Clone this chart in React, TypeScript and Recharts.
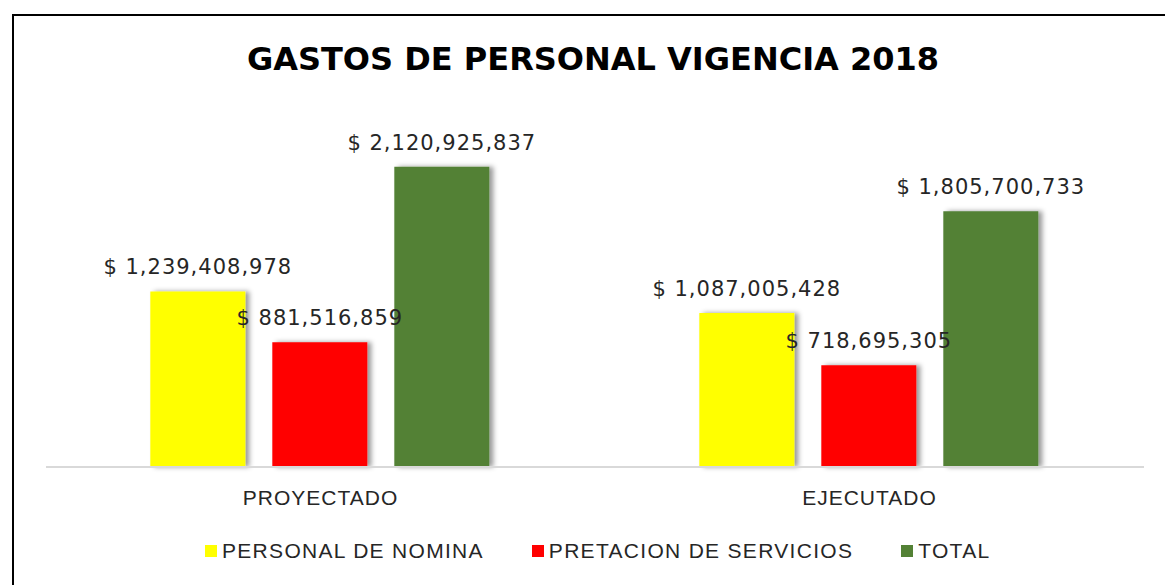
import React from "react";
import { BarChart, Bar, XAxis, YAxis, LabelList } from "recharts";

const categories = ["PROYECTADO", "EJECUTADO"];
const nomina = [1239408978, 1087005428];
const servicios = [881516859, 718695305];
const total = [2120925837, 1805700733];

const series = [
  { key: "nomina", name: "PERSONAL DE NOMINA", color: "#FFFF00" },
  { key: "servicios", name: "PRETACION DE SERVICIOS", color: "#FF0000" },
  { key: "total", name: "TOTAL", color: "#538135" },
];

const data = categories.map((c, i) => ({
  name: c,
  nomina: nomina[i],
  servicios: servicios[i],
  total: total[i],
}));

const money = (v: any) => "$ " + Number(v).toLocaleString("en-US");

// plain svg text so the label never wraps to the bar width
const ValueLabel = (props: any) => {
  const { x, y, width, value } = props;
  return (
    <text
      x={Number(x) + Number(width) / 2}
      y={Number(y) - 17}
      textAnchor="middle"
      fontFamily="'DejaVu Sans', sans-serif"
      fontSize={21}
      letterSpacing={1}
      fill="#262626"
    >
      {money(value)}
    </text>
  );
};

export default function App() {
  return (
    <div style={{ position: "absolute", left: 0, top: 0, width: 1165, height: 585, background: "#fff", overflow: "hidden" }}>
      <div
        style={{
          position: "absolute", left: 12, top: 14, width: 1180, height: 600,
          border: "2px solid #000", boxSizing: "border-box",
        }}
      />
      <div
        style={{
          position: "absolute", left: 0, top: 40, width: 1186, textAlign: "center",
          fontFamily: "'DejaVu Sans', sans-serif", fontWeight: "bold", fontSize: 32, color: "#000",
        }}
      >
        GASTOS DE PERSONAL VIGENCIA 2018
      </div>
      <div style={{ position: "absolute", left: 1, top: 0 }}>
        <BarChart
          width={1165}
          height={585}
          data={data}
          margin={{ top: 113, right: 22, left: 45, bottom: 88 }}
          barGap={27}
          barCategoryGap="19%"
        >
          <defs>
            <filter id="barShadow" x="-20%" y="-5%" width="140%" height="110%">
              <feDropShadow dx="4" dy="0" stdDeviation="2.5" floodColor="#000" floodOpacity="0.4" />
            </filter>
          </defs>
          <XAxis
            dataKey="name"
            axisLine={{ stroke: "#d9d9d9", strokeWidth: 2 }}
            tickLine={false}
            tick={{ fontFamily: "'Liberation Sans', sans-serif", fontSize: 21, fill: "#262626", letterSpacing: 1 }}
            tickMargin={17}
          />
          <YAxis hide domain={[0, 2500000000]} />
          {series.map((s) => (
            <Bar
              key={s.key}
              dataKey={s.key}
              name={s.name}
              fill={s.color}
              filter="url(#barShadow)"
              isAnimationActive={false}
            >
              <LabelList dataKey={s.key} content={ValueLabel} />
            </Bar>
          ))}
        </BarChart>
      </div>
      <div
        style={{
          position: "absolute", left: 205, top: 539, display: "flex",
          fontFamily: "'Liberation Sans', sans-serif", fontSize: 21, color: "#262626", letterSpacing: 1.3,
        }}
      >
        {series.map((s, i) => (
          <div key={s.key} style={{ display: "flex", alignItems: "center", marginLeft: i === 0 ? 0 : 48 }}>
            <span style={{ width: 12, height: 12, background: s.color, display: "inline-block", marginRight: 5 }} />
            {s.name}
          </div>
        ))}
      </div>
    </div>
  );
}
